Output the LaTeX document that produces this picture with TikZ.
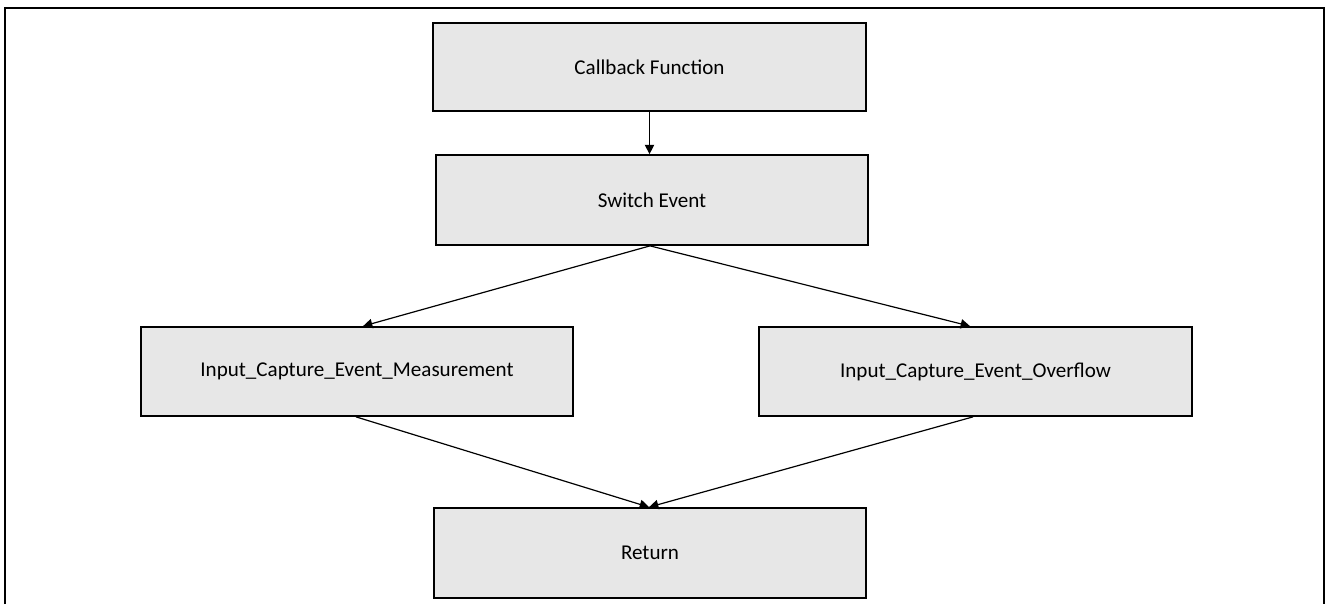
\documentclass[tikz,border=0pt]{standalone}
\usepackage{fontspec}
\setmainfont{Carlito}
\usetikzlibrary{arrows.meta,calc}
\definecolor{boxgray}{HTML}{E7E7E7}
\begin{document}
\begin{tikzpicture}[x=0.75pt,y=-0.75pt,
  box/.style={draw=black, fill=boxgray, line width=1.3pt, inner sep=0pt,
    font=\fontsize{15.8}{19}\selectfont},
  arr/.style={-{Triangle[length=7pt,width=7pt]}, line width=0.9pt}]
\useasboundingbox (0,0) rectangle (1326,604);
\draw[line width=1.5pt] (5,604) -- (5,8) -- (1324,8) -- (1324,604);
\node[box, minimum width=324.75pt, minimum height=66pt] (cb) at (649.5,67) {Callback Function};
\node[box, minimum width=324pt, minimum height=67.5pt] (sw) at (652,200) {Switch Event};
\node[box, minimum width=324pt, minimum height=66.75pt] (meas) at (357,371.5) {Input\_Capture\_Event\_Measurement};
\node[box, minimum width=324.75pt, minimum height=66.75pt] (ovf) at (975.5,371.5) {Input\_Capture\_Event\_Overflow};
\node[box, minimum width=324pt, minimum height=67.5pt] (ret) at (650,553) {Return};
\draw[arr] (cb.south) -- (cb.south |- sw.north);
\draw[arr] ($(sw.south)+(-2,0)$) -- ($(meas.north)+(6,0)$);
\draw[arr] ($(sw.south)+(-2,0)$) -- ($(ovf.north)+(-5.5,0)$);
\draw[arr] ($(meas.south)+(-1,0)$) -- ($(ret.north)+(-1,0)$);
\draw[arr] ($(ovf.south)+(-2.5,0)$) -- ($(ret.north)+(-1,0)$);
\end{tikzpicture}
\end{document}
